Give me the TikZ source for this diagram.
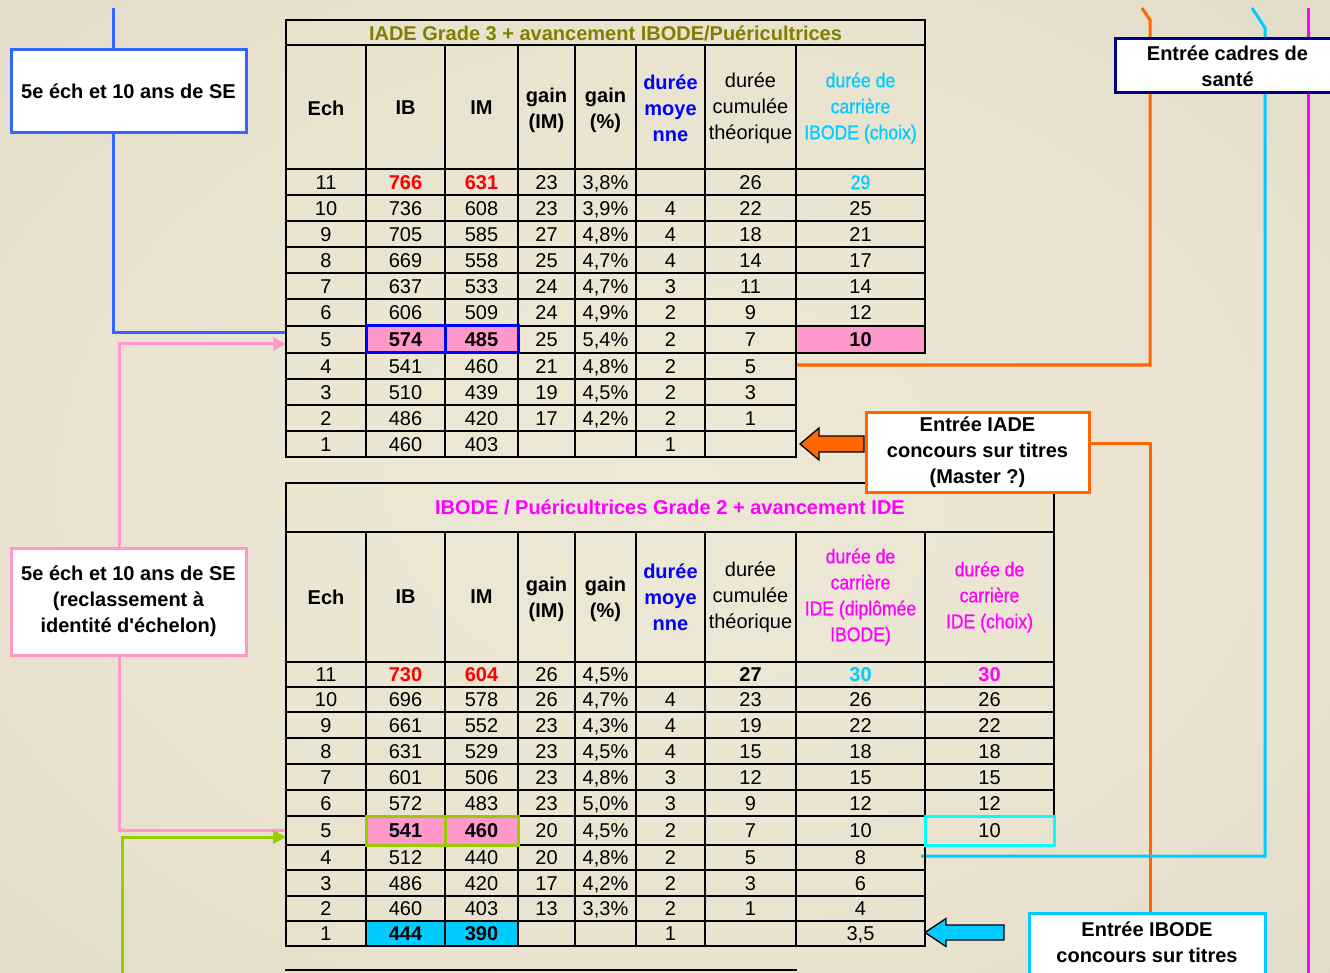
\documentclass[tikz,border=0pt]{standalone}
\usepackage{fontspec}
\setmainfont{Liberation Sans}
\newfontfamily\narrowf[FakeStretch=0.88,FakeBold=0.7]{Liberation Sans}
\usetikzlibrary{arrows.meta}
\definecolor{bgin}{RGB}{238,232,214}
\definecolor{bgtwo}{RGB}{232,226,207}
\definecolor{bgmid}{RGB}{216,211,193}
\definecolor{bgout}{RGB}{196,192,174}
\definecolor{olivetxt}{RGB}{128,128,0}
\definecolor{magtxt}{RGB}{255,0,255}
\definecolor{cyantxt}{RGB}{0,204,255}
\definecolor{pinkfill}{RGB}{255,153,204}
\definecolor{cyanfill}{RGB}{0,204,255}
\definecolor{greenln}{RGB}{153,204,0}
\definecolor{blueln}{RGB}{51,102,255}
\definecolor{pinkln}{RGB}{255,153,204}
\definecolor{orangeln}{RGB}{255,102,0}
\definecolor{cyanln}{RGB}{0,204,255}
\definecolor{navyln}{RGB}{0,0,128}
\definecolor{cyanbox}{RGB}{0,255,255}
\pgfdeclareradialshading{bgshade}{\pgfpoint{0bp}{0bp}}{color(0bp)=(bgin); color(25bp)=(bgtwo); color(50bp)=(bgmid); color(72bp)=(bgout)}
\pgfdeclarelayer{back}
\pgfdeclarelayer{lines}
\pgfsetlayers{back,lines,main}
\newcommand\xrb[1]{\textcolor{red}{\bfseries #1}}
\newcommand\xbb[1]{{\bfseries #1}}
\newcommand\xcy[1]{\textcolor{cyantxt}{\narrowf #1}}
\newcommand\xcb[1]{\textcolor{cyantxt}{\bfseries #1}}
\newcommand\xmb[1]{\textcolor{magtxt}{\bfseries #1}}
\newcommand\tabrow[3]{%
  \foreach \val [count=\i] in {#3}{%
    \pgfmathsetmacro\cx{{326,405.5,481.5,546.5,605.5,670.5,750.5,860.5,989.5}[\i-1]}%
    \node[cell] (#1-\i) at (\cx,#2) {\val};
  }}
\tikzset{
  tl/.style={line width=2.2pt, black, line cap=rect},
  cell/.style={inner sep=0pt, font=\fontsize{20}{24}\selectfont, text height=14.4pt, text depth=0pt},
  hdr/.style={inner sep=0pt, font=\fontsize{20}{26}\selectfont\bfseries, align=center},
  hdrn/.style={inner sep=0pt, font=\fontsize{20}{26}\selectfont, align=center},
  hdrw/.style={inner sep=0pt, font=\fontsize{20}{26}\selectfont\narrowf, align=center},
  ttl/.style={inner sep=0pt, font=\fontsize{20}{24}\selectfont\bfseries},
  box/.style={draw, line width=3pt, fill=white, font=\fontsize{20}{26}\selectfont\bfseries, align=center, inner sep=0pt},
  conn/.style={line width=3pt},
  hbox/.style={line width=3pt},
}
\begin{document}
\begin{tikzpicture}[x=1pt,y=-1pt]
\useasboundingbox (0,0) rectangle (1330,973);
\begin{pgfonlayer}{back}
\shade[shading=bgshade] (0,0) rectangle (1330,973);
\end{pgfonlayer}

% ---------- highlight fills
\fill[pinkfill] (366,326) rectangle (518,353);
\fill[pinkfill] (796,326) rectangle (925,353);
\fill[pinkfill] (366,816) rectangle (518,845);
\fill[cyanfill] (366,921) rectangle (518,946);

% ---------- table 1 grid
\draw[tl] (286,20) -- (925,20);
\draw[tl] (286,45) -- (925,45);
\foreach \y in {169,195,221,247,273,299,326,353} \draw[tl] (286,\y) -- (925,\y);
\foreach \y in {379,405,431,457} \draw[tl] (286,\y) -- (796,\y);
\draw[tl] (286,20) -- (286,457);
\draw[tl] (925,20) -- (925,353);
\foreach \x in {366,445,518,575,636,705,796} \draw[tl] (\x,45) -- (\x,457);

% ---------- table 2 grid
\draw[tl] (286,483) -- (1054,483);
\draw[tl] (286,532) -- (1054,532);
\foreach \y in {662,687,712,738,764,790,816} \draw[tl] (286,\y) -- (1054,\y);
\foreach \y in {845,870,896,921,946} \draw[tl] (286,\y) -- (925,\y);
\draw[tl] (286,483) -- (286,946);
\draw[tl] (1054,483) -- (1054,816);
\foreach \x in {366,445,518,575,636,705,796,925} \draw[tl] (\x,532) -- (\x,946);
\draw[tl] (286,970) -- (796,970);

% ---------- table 1 texts
\node[ttl, text=olivetxt] (a-title) at (605.5,33) {IADE Grade 3 + avancement IBODE/Puéricultrices};
\node[hdr] (a-h1) at (326,108) {Ech};
\node[hdr] (a-h2) at (405.5,108) {IB};
\node[hdr] (a-h3) at (481.5,108) {IM};
\node[hdr] (a-h4) at (546.5,110) {gain\\(IM)};
\node[hdr] (a-h5) at (605.5,110) {gain\\(\%)};
\node[hdr, text=blue] (a-h6) at (670.5,108) {durée\\moye\\nne};
\node[hdrn] (a-h7) at (750.5,108) {durée\\cumulée\\théorique};
\node[hdrw, text=cyantxt] (a-h8) at (860.5,108) {durée de\\carrière\\IBODE (choix)};
\tabrow{a11}{182}{11,\xrb{766},\xrb{631},23,{3,8\%},{},26,\xcy{29}}
\tabrow{a10}{208}{10,736,608,23,{3,9\%},4,22,25}
\tabrow{a9}{234}{9,705,585,27,{4,8\%},4,18,21}
\tabrow{a8}{260}{8,669,558,25,{4,7\%},4,14,17}
\tabrow{a7}{286}{7,637,533,24,{4,7\%},3,11,14}
\tabrow{a6}{312.5}{6,606,509,24,{4,9\%},2,9,12}
\tabrow{a5}{339.5}{5,\xbb{574},\xbb{485},25,{5,4\%},2,7,\xbb{10}}
\tabrow{a4}{366}{4,541,460,21,{4,8\%},2,5}
\tabrow{a3}{392}{3,510,439,19,{4,5\%},2,3}
\tabrow{a2}{418}{2,486,420,17,{4,2\%},2,1}
\tabrow{a1}{444}{1,460,403,{},{},1}

% ---------- table 2 texts
\node[ttl, text=magtxt] (b-title) at (670,507.5) {IBODE / Puéricultrices Grade 2 + avancement IDE};
\node[hdr] (b-h1) at (326,597) {Ech};
\node[hdr] (b-h2) at (405.5,597) {IB};
\node[hdr] (b-h3) at (481.5,597) {IM};
\node[hdr] (b-h4) at (546.5,599) {gain\\(IM)};
\node[hdr] (b-h5) at (605.5,599) {gain\\(\%)};
\node[hdr, text=blue] (b-h6) at (670.5,597) {durée\\moye\\nne};
\node[hdrn] (b-h7) at (750.5,597) {durée\\cumulée\\théorique};
\node[hdrw, text=magtxt] (b-h8) at (860.5,597) {durée de\\carrière\\IDE (diplômée\\IBODE)};
\node[hdrw, text=magtxt] (b-h9) at (989.5,597) {durée de\\carrière\\IDE (choix)};
\tabrow{b11}{674.5}{11,\xrb{730},\xrb{604},26,{4,5\%},{},\xbb{27},\xcb{30},\xmb{30}}
\tabrow{b10}{699.5}{10,696,578,26,{4,7\%},4,23,26,26}
\tabrow{b9}{725}{9,661,552,23,{4,3\%},4,19,22,22}
\tabrow{b8}{751}{8,631,529,23,{4,5\%},4,15,18,18}
\tabrow{b7}{777}{7,601,506,23,{4,8\%},3,12,15,15}
\tabrow{b6}{803}{6,572,483,23,{5,0\%},3,9,12,12}
\tabrow{b5}{830.5}{5,\xbb{541},\xbb{460},20,{4,5\%},2,7,10,10}
\tabrow{b4}{857.5}{4,512,440,20,{4,8\%},2,5,8}
\tabrow{b3}{883}{3,486,420,17,{4,2\%},2,3,6}
\tabrow{b2}{908.5}{2,460,403,13,{3,3\%},2,1,4}
\tabrow{b1}{933.5}{1,\xbb{444},\xbb{390},{},{},1,{},{3,5}}

% ---------- highlight boxes
\draw[hbox, blue] (366,326) rectangle (445,353);
\draw[hbox, blue] (445,326) rectangle (518,353);
\draw[hbox, greenln] (366,816) rectangle (445,845);
\draw[hbox, greenln] (445,816) rectangle (518,845);
\draw[hbox, cyanbox] (925,816) rectangle (1054,845);

% ---------- text boxes
\node[box, draw=blueln, minimum width=235pt, minimum height=83pt] (boxA) at (128.5,91.5) {5e éch et 10 ans de SE};
\node[box, draw=pinkln, minimum width=235pt, minimum height=107pt] (boxB) at (128.5,601.5) {5e éch et 10 ans de SE\\(reclassement à\\identité d\textquotesingle échelon)};
\node[box, draw=navyln, minimum width=225pt, minimum height=54pt] (boxC) at (1227.5,66) {Entrée cadres de\\santé};
\node[box, draw=orangeln, minimum width=223pt, minimum height=80pt] (boxD) at (977.5,452) {Entrée IADE\\concours sur titres\\(Master ?)};
\node[box, draw=cyanln, minimum width=236pt, minimum height=66pt] (boxE) at (1147,946) {};
\node[hdr] (boxEtxt) at (1147,942) {Entrée IBODE\\concours sur titres};

% ---------- connectors
\begin{pgfonlayer}{lines}
\coordinate (bluetop) at (113,8);
\coordinate (bluecorner) at (113,333);
\coordinate (t1blue) at (286,333);
\draw[conn, blueln] (bluetop) -- (bluetop |- boxA.north);
\draw[conn, blueln] (boxA.south -| bluetop) -- (bluecorner) -- (t1blue);

\coordinate (pinkc1) at (119,344);
\coordinate (t1pink) at (286,344);
\draw[conn, pinkln, -{Triangle[length=13pt,width=13pt]}] (boxB.north -| pinkc1) -- (pinkc1) -- (t1pink);
\coordinate (pinkc2) at (119,830);
\coordinate (t2pink) at (286,830);
\draw[conn, pinkln] (boxB.south -| pinkc2) -- (pinkc2) -- (t2pink);

\coordinate (greenbot) at (122,980);
\coordinate (greenc) at (122,837);
\coordinate (t2green) at (286,837);
\draw[conn, greenln, -{Triangle[length=13pt,width=13pt]}] (greenbot) -- (greenc) -- (t2green);

\coordinate (or1a) at (1142,8);
\coordinate (or1b) at (1150,20);
\coordinate (or1c) at (1150,365);
\coordinate (t1orange) at (796,365);
\draw[conn, orangeln] (or1a) -- (or1b) -- (or1c) -- (t1orange);

\coordinate (or2y) at (0,443);
\coordinate (or2c) at (1150,443);
\coordinate (or2bot) at (1150,980);
\draw[conn, orangeln] (boxD.east |- or2y) -- (or2c) -- (or2bot);

\coordinate (cy1) at (1252,8);
\coordinate (cy2) at (1265,28);
\coordinate (cy3) at (1265,856);
\coordinate (t2cyan) at (921,856);
\draw[conn, cyanln] (cy1) -- (cy2) -- (cy3) -- (t2cyan);

\coordinate (mg1) at (1308,8);
\coordinate (mg2) at (1308,980);
\draw[conn, magtxt] (mg1) -- (mg2);
\end{pgfonlayer}

% ---------- block arrows
\filldraw[fill=orangeln, draw=black, line width=1.3pt, line join=miter]
  (800,444) -- (819,428) -- (819,436) -- (864,436) -- (864,452) -- (819,452) -- (819,460) -- cycle;
\filldraw[fill=cyanfill, draw=black, line width=1.3pt, line join=miter]
  (925,932.5) -- (946,918.5) -- (946,925) -- (1004,925) -- (1004,940) -- (946,940) -- (946,946.5) -- cycle;
\end{tikzpicture}
\end{document}
